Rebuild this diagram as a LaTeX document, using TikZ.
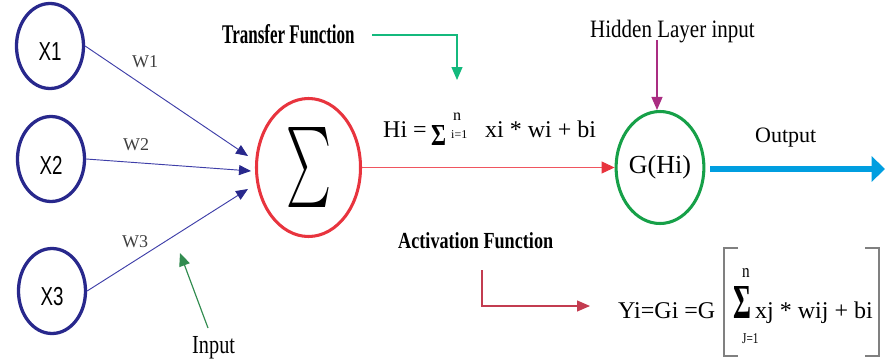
\documentclass[tikz,border=0pt]{standalone}
\usepackage{fontspec}
\setmainfont{Liberation Serif}
\newfontfamily\xfont{Liberation Sans}
\usepackage{graphicx}
\usetikzlibrary{shapes.geometric,arrows.meta}
\newdimen\pxu \pxu=0.03cm
\newcommand\fs[1]{\fontsize{\fpeval{#1*0.8536}}{\fpeval{#1*1.1}}\selectfont}
\newcommand\xlab[1]{\raisebox{-6\pxu}[\height][\depth]{\scalebox{0.72}[1]{#1}}}
\definecolor{navyc}{RGB}{40,40,140}
\definecolor{wirec}{RGB}{62,62,168}
\definecolor{sumred}{RGB}{232,52,62}
\definecolor{linered}{RGB}{240,85,95}
\definecolor{gcirc}{RGB}{22,160,72}
\definecolor{tealc}{RGB}{20,185,125}
\definecolor{magc}{RGB}{170,45,130}
\definecolor{actred}{RGB}{195,60,80}
\definecolor{outblue}{RGB}{0,158,224}
\definecolor{inpgreen}{RGB}{50,140,80}
\definecolor{brk}{RGB}{128,128,128}
\tikzset{
  xnode/.style  ={ellipse, draw=navyc, line width=2.8pt, inner sep=0pt, minimum width=2.01cm, minimum height=2.55cm, font=\xfont\fs{26}},
  sumnode/.style={ellipse, draw=sumred, line width=2.6pt, inner sep=0pt, minimum width=3.12cm, minimum height=4.14cm},
  gnode/.style  ={ellipse, draw=gcirc, line width=2.6pt, inner sep=0pt, minimum width=2.43cm, minimum height=3.36cm, font=\fs{26}},
  wire/.style   ={draw=wirec, line width=0.8pt, -{Triangle[length=0.36cm,width=0.3cm,color=navyc]}},
  redwire/.style={draw=linered, line width=0.9pt, -{Triangle[length=0.39cm,width=0.36cm,color=sumred]}},
  outwire/.style={draw=outblue, line width=4.3pt, -{Triangle[length=0.4cm,width=0.75cm]}},
  callout/.style={draw=#1, line width=1pt, -{Triangle[length=0.39cm,width=0.33cm]}},
  txt/.style    ={anchor=base west, inner sep=0pt},
  wlab/.style   ={txt, font=\fs{18}, text=black!75},
  brkS/.style   ={draw=brk, line width=1.7pt},
}
\begin{document}
\begin{tikzpicture}[x=0.03cm, y=-0.03cm]
  \useasboundingbox (0,0) rectangle (885,361);
  % input neurons
  \node[xnode] (x1) at (50,46)  {\xlab{X1}};
  \node[xnode] (x2) at (51,159) {\xlab{X2}};
  \node[xnode] (x3) at (52,291) {\xlab{X3}};
  \node[sumnode] (sum) at (308.5,167.5) {\raisebox{-4\pxu}{\resizebox{45\pxu}{60\pxu}{$\sum$}}};
  \node[gnode] (g) at (660,167.5) {G(Hi)};
  % weights
  \coordinate (in1) at (248,156);
  \coordinate (in2) at (251,171);
  \coordinate (in3) at (248,189);
  \draw[wire] (x1.east) -- (in1);
  \draw[wire] (x2.east) -- (in2);
  \draw[wire] (x3.east) -- (in3);
  \node[wlab] (w1) at (132,67)  {W1};
  \node[wlab] (w2) at (123,150) {W2};
  \node[wlab] (w3) at (122,247) {W3};
  \node[txt] (inp) at (192,353) {\fs{26}\scalebox{0.78}[1]{Input}};
  \coordinate (ip0) at (208,328);
  \coordinate (ip1) at (180,253);
  \draw[callout=inpgreen] (ip0) -- (ip1);
  % transfer function
  \node[txt] (tf) at (222,43) {\bfseries\fs{27}\scalebox{0.63}[1]{Transfer Function}};
  \coordinate (tf0) at (372,35);
  \coordinate (tf1) at (457,80);
  \draw[callout=tealc] (tf0) -| (tf1);
  \node[txt] (hi) at (383,137) {\fs{24}Hi = };
  \node[txt] (hisig) at (431,145) {\resizebox{15\pxu}{20\pxu}{\bfseries Σ}};
  \node[txt] (hin) at (453,120) {\fs{16}n};
  \node[txt] (hii) at (451,138) {\fs{12}i=1};
  \node[txt] (hisum) at (485,137) {\fs{24}xi * wi + bi};
  \draw[redwire] (sum.east) -- (g.west);
  % hidden layer
  \node[txt] (hl) at (590,37) {\fs{25}\scalebox{0.84}[1]{Hidden Layer input}};
  \coordinate (hl0) at (657,40);
  \draw[callout=magc] (hl0) -- (hl0 |- g.north);
  \node[txt] (out) at (755,142) {\fs{22}Output};
  \coordinate (outend) at (885,169);
  \draw[outwire, shorten <=5\pxu] (g.east |- outend) -- (outend);
  % activation function
  \node[txt] (af) at (398,248) {\bfseries\fs{23}\scalebox{0.79}[1]{Activation Function}};
  \coordinate (af0) at (482,270);
  \coordinate (af1) at (590,306);
  \draw[callout=actred] (af0) |- (af1);
  \node[txt] (yi) at (618,318) {\fs{24}Yi=Gi =G};
  \draw[brkS] (738,248) -| (724,356) -- (738,356);
  \draw[brkS] (865,248) -| (879,356) -- (865,356);
  \node[txt] (ysig) at (733,318) {\resizebox{18\pxu}{32\pxu}{\bfseries Σ}};
  \node[txt] (yn) at (742,277) {\fs{19}\scalebox{0.8}[1]{n}};
  \node[txt] (yj) at (742,343) {\fs{15}\scalebox{0.75}[1]{J=1}};
  \node[txt] (ysum) at (755,318) {\fs{24}xj * wij + bi};
\end{tikzpicture}
\end{document}
